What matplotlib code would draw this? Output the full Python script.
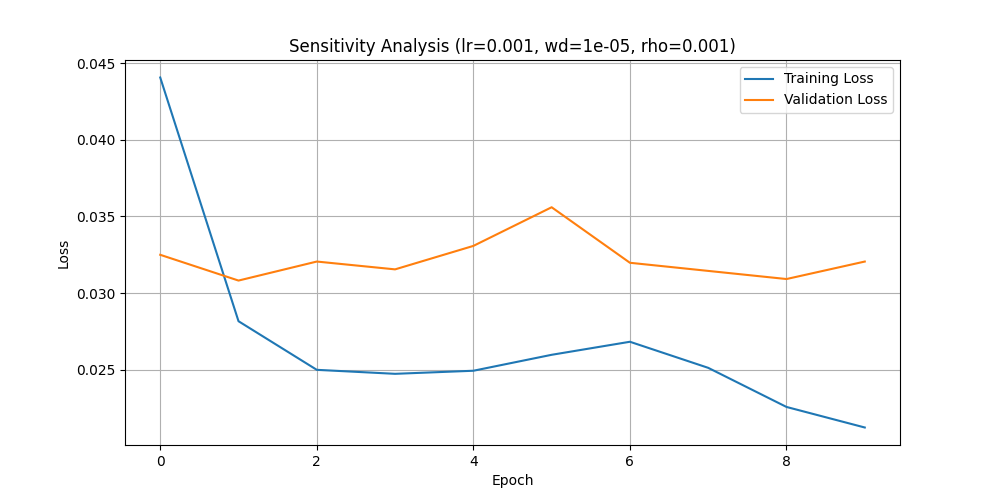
import matplotlib
matplotlib.use("Agg")
import matplotlib.pyplot as plt

# Valores
epochs = list(range(10))
train_loss = [0.04406, 0.02817, 0.02500, 0.02474, 0.02494, 0.02598, 0.02683, 0.02513, 0.02258, 0.02124]
val_loss = [0.03250, 0.03082, 0.03206, 0.03155, 0.03308, 0.03560, 0.03198, 0.03145, 0.03092, 0.03206]

fig, ax = plt.subplots(figsize=(10, 5), dpi=100)
ax.plot(epochs, train_loss, label="Training Loss")
ax.plot(epochs, val_loss, label="Validation Loss")
ax.set_title("Sensitivity Analysis (lr=0.001, wd=1e-05, rho=0.001)")
ax.set_xlabel("Epoch")
ax.set_ylabel("Loss")
ax.legend()
ax.grid(True)

fig.savefig("out.png")
